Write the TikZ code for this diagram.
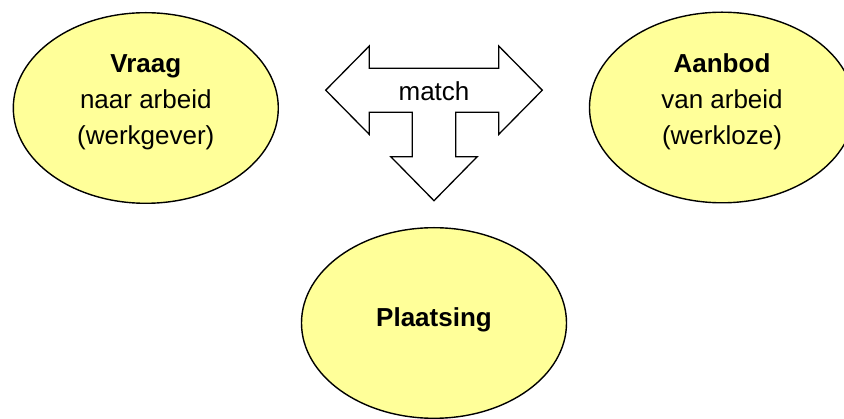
\documentclass[tikz,border=0pt]{standalone}
\usepackage{fontspec}
\setmainfont{Liberation Sans}
\usetikzlibrary{shapes.geometric}
\definecolor{ellfill}{HTML}{FFFF99}
\begin{document}
\begin{tikzpicture}[x=1pt,y=-1pt,
  ell/.style={ellipse,draw=black,fill=ellfill,line width=1.4pt,
    minimum width=265pt,minimum height=190.6pt,inner sep=0pt},
  lbl/.style={align=center,font=\fontsize{26}{36}\selectfont,inner sep=0pt},
  arrowshape/.style={draw=black,fill=white,line width=1.3pt,line join=miter}]
\useasboundingbox (0,0) rectangle (844,419);
\clip (0,0) rectangle (844,419);
% ellipses
\node[ell] (vraag) at (145.8,108) {};
\node[ell] (aanbod) at (722,107.5) {};
\node[ell] (plaatsing) at (434,323) {};
\node[lbl] (vraagtxt) at ([yshift=5.3pt]vraag.center) {\textbf{Vraag}\\naar arbeid\\(werkgever)};
\node[lbl] (aanbodtxt) at ([yshift=5.3pt]aanbod.center) {\textbf{Aanbod}\\van arbeid\\(werkloze)};
\node[lbl] (plaatsingtxt) at ([yshift=3pt]plaatsing.center) {\textbf{Plaatsing}};
% three-way arrow
\draw[arrowshape] (325.7,90.2) -- (369.3,46) -- (369.3,68.3) -- (498.7,68.3) -- (498.7,46)
  -- (542.3,90.2) -- (498.7,134.4) -- (498.7,112.3) -- (455.7,112.3) -- (455.7,156.7)
  -- (477.2,156.7) -- (434,200.7) -- (390.8,156.7) -- (412.3,156.7) -- (412.3,112.3)
  -- (369.3,112.3) -- (369.3,134.4) -- cycle;
\node[lbl] (match) at (434,91.7) {match};
\end{tikzpicture}
\end{document}
